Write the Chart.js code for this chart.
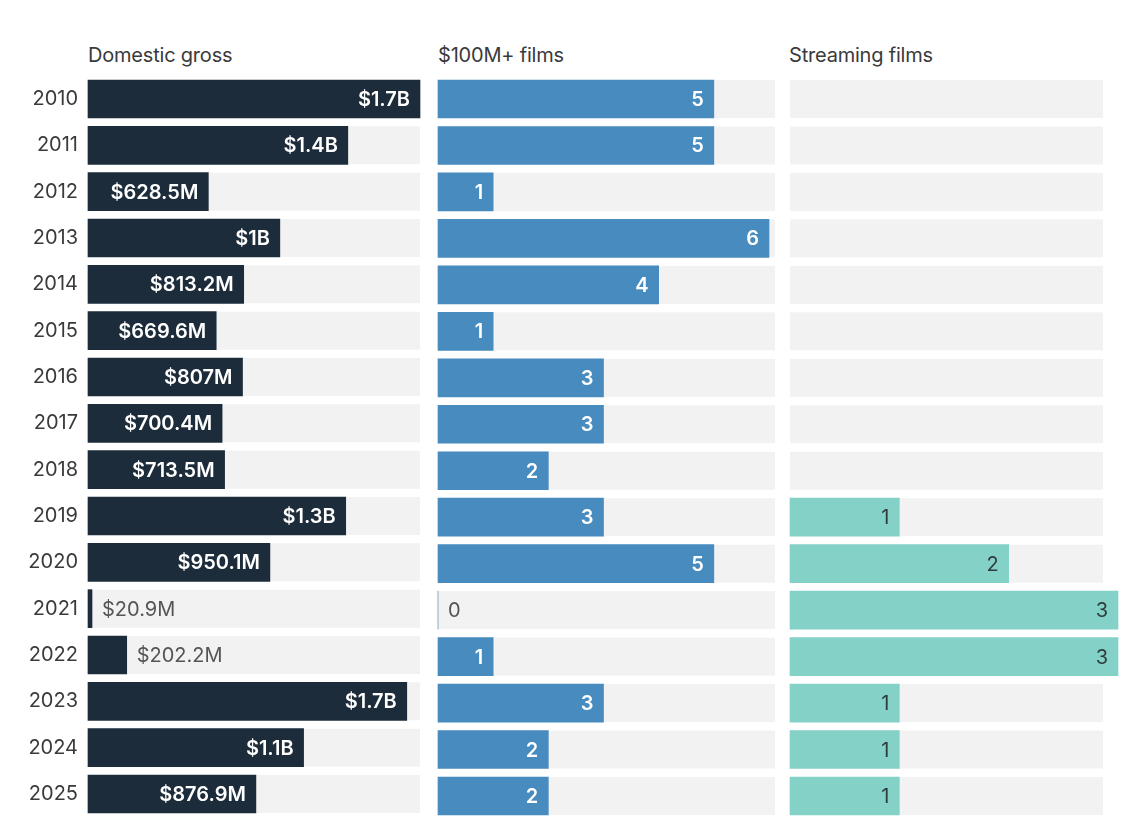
<!DOCTYPE html>
<html>
<head>
<meta charset="utf-8">
<script src="https://cdn.jsdelivr.net/npm/chart.js@4.4.1/dist/chart.umd.min.js"></script>
<style>
  html, body { margin: 0; padding: 0; background: #ffffff; overflow: hidden; width: 1125px; height: 816px; }
  .wrap { position: relative; width: 1125px; height: 816px; }
  canvas { position: absolute; top: 0; }
  .hdr { position: absolute; top: 45px; font-family: Inter, "Liberation Sans", sans-serif; font-size: 20px; line-height: 20px; color: #3a3a3a; white-space: nowrap; letter-spacing: -0.2px; }
</style>
</head>
<body>
<div class="wrap">
  <div class="hdr" style="left:88px">Domestic gross</div>
  <div class="hdr" style="left:438px">$100M+ films</div>
  <div class="hdr" style="left:789px">Streaming films</div>
  <canvas id="c1" width="430" height="816" style="left:0px;width:430px;height:816px"></canvas>
  <canvas id="c2" width="350" height="816" style="left:430px;width:350px;height:816px"></canvas>
  <canvas id="c3" width="345" height="816" style="left:780px;width:345px;height:816px"></canvas>
</div>
<script>
// ---- data ----
const years = ['2010','2011','2012','2013','2014','2015','2016','2017','2018','2019','2020','2021','2022','2023','2024','2025'];
// domestic gross, millions of dollars
const domesticGross = [1734, 1357, 628.5, 1002, 813.2, 669.6, 807, 700.4, 713.5, 1346, 950.1, 20.9, 202.2, 1665, 1126, 876.9];
// number of $100M+ films
const films100M = [5, 5, 1, 6, 4, 1, 3, 3, 2, 3, 5, 0, 1, 3, 2, 2];
// number of streaming films
const streamingFilms = [null, null, null, null, null, null, null, null, null, 1, 2, 3, 3, 1, 1, 1];

function fmtGross(v) {
  if (v >= 1000) {
    let s = (v / 1000).toFixed(1);
    if (s.endsWith('.0')) s = s.slice(0, -2);
    return '$' + s + 'B';
  }
  return '$' + v + 'M';
}
function fmtCount(v) { return String(v); }

const FONT = 'Inter, "Liberation Sans", sans-serif';

const trackPlugin = {
  id: 'track',
  beforeDatasetsDraw(chart, args, opts) {
    const ctx = chart.ctx;
    const area = chart.chartArea;
    const meta = chart.getDatasetMeta(0);
    ctx.save();
    ctx.fillStyle = opts.color || '#f2f2f2';
    const right = area.right - (opts.inset || 0);
    meta.data.forEach((bar) => {
      const h = bar.height;
      ctx.fillRect(area.left, bar.y - h / 2, right - area.left, h);
    });
    ctx.restore();
  }
};

const labelPlugin = {
  id: 'valueLabels',
  afterDatasetsDraw(chart, args, opts) {
    const ctx = chart.ctx;
    const ds = chart.data.datasets[0];
    const meta = chart.getDatasetMeta(0);
    ctx.save();
    ctx.textBaseline = 'middle';
    meta.data.forEach((bar, i) => {
      const v = ds.data[i];
      if (v === null || v === undefined) return;
      const text = opts.format(v);
      ctx.font = opts.insideWeight + ' 20px ' + FONT;
      const w = ctx.measureText(text).width;
      const barW = bar.x - bar.base;
      if (barW >= w + 20) {
        ctx.fillStyle = opts.insideColor;
        ctx.textAlign = 'right';
        ctx.fillText(text, bar.x - 10, bar.y + 1);
      } else {
        ctx.font = '400 20px ' + FONT;
        ctx.fillStyle = opts.outsideColor;
        ctx.textAlign = 'left';
        ctx.fillText(text, bar.x + 10, bar.y + 1);
      }
    });
    ctx.restore();
  }
};

function makeChart(id, values, color, xMax, padding, showYears, labelOpts, trackInset) {
  return new Chart(document.getElementById(id), {
    type: 'bar',
    data: {
      labels: years,
      datasets: [{
        data: values,
        backgroundColor: color,
        borderWidth: 0,
        barThickness: 38,
        borderSkipped: false,
        clip: false
      }]
    },
    options: {
      indexAxis: 'y',
      responsive: false,
      maintainAspectRatio: false,
      animation: false,
      devicePixelRatio: 1,
      layout: { padding: padding },
      plugins: {
        legend: { display: false },
        tooltip: { enabled: false },
        title: { display: false },
        track: { color: '#f2f2f2', inset: trackInset },
        valueLabels: labelOpts
      },
      scales: {
        x: { display: false, min: 0, max: xMax },
        y: {
          display: showYears,
          offset: false,
          grid: { display: false, drawTicks: false, offset: false },
          border: { display: false },
          ticks: {
            padding: 10,
            color: '#3a3a3a',
            font: { family: FONT, size: 20, weight: '400' }
          },
          afterFit(scale) { if (showYears) scale.width = 88; }
        }
      }
    },
    plugins: [trackPlugin, labelPlugin]
  });
}

const PAD_TOP = 99, PAD_BOTTOM = 20;

makeChart('c1', domesticGross, '#1d2c3a', Math.max(...domesticGross),
  { left: 0, right: 10, top: PAD_TOP, bottom: PAD_BOTTOM }, true,
  { format: fmtGross, insideColor: '#ffffff', insideWeight: '600', outsideColor: '#555555' }, 0);

makeChart('c2', films100M, '#478bbf', 6,
  { left: 8, right: 11, top: PAD_TOP, bottom: PAD_BOTTOM }, false,
  { format: fmtCount, insideColor: '#ffffff', insideWeight: '600', outsideColor: '#555555' }, -6);

makeChart('c3', streamingFilms, '#84d1c8', 3,
  { left: 10, right: 7, top: PAD_TOP, bottom: PAD_BOTTOM }, false,
  { format: fmtCount, insideColor: '#2f3d3d', insideWeight: '400', outsideColor: '#555555' }, 15);
</script>
</body>
</html>
